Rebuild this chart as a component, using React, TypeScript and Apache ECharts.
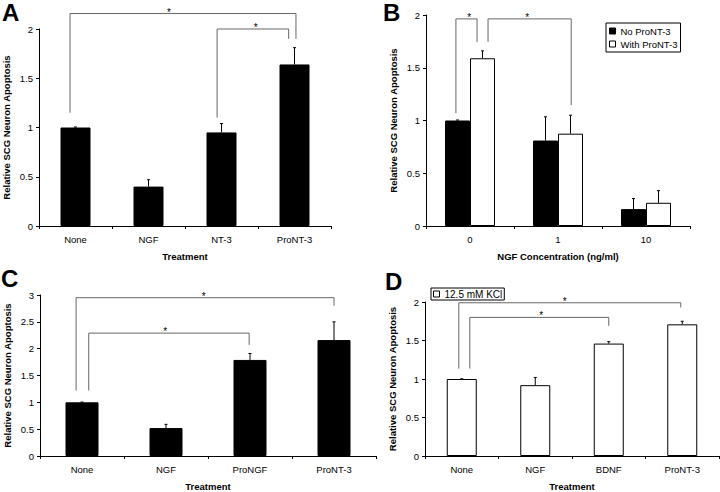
import React, { useEffect, useRef } from "react";
import * as echarts from "echarts";

const FONT = '"Liberation Sans", Arial, Helvetica, sans-serif';

// Panel A
const CATS_A = ["None", "NGF", "NT-3", "ProNT-3"];
const VALS_A = [1.0, 0.4, 0.95, 1.64];
const ERR_A = [1.005, 0.47, 1.04, 1.81];
// brackets: [xLeft, xRight, yLeftFoot, yRightFoot, yTop, xStar] (x in category units from first category centre)
const BRACKETS_A = [
  [-0.075, 3.02, 1.15, 1.9, 2.157, 1.28],
  [1.94, 2.92, 1.1, 1.9, 2.0, 2.47],
];

// Panel B
const CATS_B = ["0", "1", "10"];
const NO_PRO_B = [1.0, 0.81, 0.16];
const NO_PRO_ERR_B = [1.005, 1.035, 0.26];
const WITH_PRO_B = [1.59, 0.875, 0.22];
const WITH_PRO_ERR_B = [1.66, 1.05, 0.335];
const BRACKETS_B = [
  [-0.16, 0.08, 1.07, 1.745, 1.963, -0.01],
  [0.205, 1.15, 1.745, 1.146, 1.963, 0.65],
];

// Panel C
const CATS_C = ["None", "NGF", "ProNGF", "ProNT-3"];
const VALS_C = [1.0, 0.52, 1.79, 2.16];
const ERR_C = [1.005, 0.59, 1.91, 2.5];
const BRACKETS_C = [
  [-0.07, 3.0, 1.22, 2.8, 2.95, 1.45],
  [0.08, 1.99, 1.22, 2.07, 2.29, 0.99],
];

// Panel D
const CATS_D = ["None", "NGF", "BDNF", "ProNT-3"];
const VALS_D = [1.0, 0.92, 1.46, 1.71];
const ERR_D = [1.003, 1.02, 1.485, 1.75];
const BRACKETS_D = [
  [-0.04, 2.98, 1.135, 1.93, 1.99, 1.4],
  [0.11, 2.0, 1.135, 1.69, 1.8, 1.08],
];

const Y_TITLE = "Relative SCG Neuron Apoptosis";

function errRender(offset: number) {
  return (params: any, api: any) => {
    const base = api.coord([api.value(0), api.value(2)]);
    const top = api.coord([api.value(0), api.value(1)]);
    const x = base[0] + offset;
    return {
      type: "group",
      children: [
        { type: "line", shape: { x1: x, y1: base[1], x2: x, y2: top[1] }, style: { stroke: "#000", lineWidth: 1 } },
        { type: "line", shape: { x1: x - 1.5, y1: top[1], x2: x + 1.5, y2: top[1] }, style: { stroke: "#000", lineWidth: 1 } },
      ],
    };
  };
}

function bracketRender(params: any, api: any) {
  const c0 = api.coord([0, 0]);
  const band = api.size([1, 0])[0];
  const X = (p: number) => c0[0] + p * band;
  const Y = (v: number) => api.coord([0, v])[1];
  const xl = X(api.value(2));
  const xr = X(api.value(3));
  const yl = Y(api.value(4));
  const yr = Y(api.value(5));
  const yt = Y(api.value(6));
  const xs = X(api.value(7));
  return {
    type: "group",
    children: [
      {
        type: "polyline",
        shape: { points: [[xl, yl], [xl, yt], [xr, yt], [xr, yr]] },
        style: { stroke: "#666", fill: "none", lineWidth: 1 },
      },
      {
        type: "text",
        x: xs,
        y: yt - 1.5,
        style: { text: "*", fill: "#000", font: `10px ${FONT}`, align: "center", verticalAlign: "middle" },
      },
    ],
  };
}

function xAxis(idx: number, cats: string[], name: string) {
  return {
    type: "category",
    gridIndex: idx,
    data: cats,
    name,
    nameLocation: "middle",
    nameGap: 25,
    nameTextStyle: { fontFamily: FONT, fontWeight: "bold", fontSize: 9.5, color: "#000" },
    axisLine: { show: true, lineStyle: { color: "#000", width: 1 } },
    axisTick: { show: true, length: 3, lineStyle: { color: "#000" } },
    axisLabel: { fontFamily: FONT, fontSize: 9.5, color: "#000", margin: 8 },
    splitLine: { show: false },
  };
}

function yAxis(idx: number, max: number) {
  return {
    type: "value",
    gridIndex: idx,
    min: 0,
    max,
    interval: 0.5,
    name: Y_TITLE,
    nameLocation: "middle",
    nameGap: 28,
    nameTextStyle: { fontFamily: FONT, fontWeight: "bold", fontSize: 9.5, color: "#000" },
    axisLine: { show: true, lineStyle: { color: "#000", width: 1 } },
    axisTick: { show: true, length: 3, lineStyle: { color: "#000" } },
    axisLabel: { fontFamily: FONT, fontSize: 9.5, color: "#000", margin: 6 },
    splitLine: { show: false },
  };
}

function errSeries(idx: number, vals: number[], errs: number[], offset: number) {
  return {
    type: "custom",
    xAxisIndex: idx,
    yAxisIndex: idx,
    z: 3,
    silent: true,
    itemStyle: { color: "#000" },
    data: vals.map((v, i) => [i, errs[i], v]),
    encode: { x: 0, y: 1 },
    renderItem: errRender(offset),
  };
}

function bracketSeries(idx: number, brackets: number[][]) {
  return {
    type: "custom",
    xAxisIndex: idx,
    yAxisIndex: idx,
    z: 4,
    silent: true,
    clip: false,
    itemStyle: { color: "#000" },
    data: brackets.map((b) => [0, 0, ...b]),
    encode: { x: 0, y: 1 },
    renderItem: bracketRender,
  };
}

const BLACK = { color: "#000", borderColor: "#000", borderWidth: 1 };
const WHITE = { color: "#fff", borderColor: "#000", borderWidth: 1 };

export default function App() {
  const ref = useRef<HTMLDivElement>(null);
  useEffect(() => {
    if (!ref.current) return;
    const chart = echarts.init(ref.current, null, { renderer: "svg" });
    const legendCommon = {
      orient: "vertical",
      icon: "rect",
      itemWidth: 6,
      itemHeight: 6,
      itemGap: 3,
      borderColor: "#000",
      borderWidth: 1,
      backgroundColor: "#fff",
      z: 10,
      itemStyle: { borderColor: "#000", borderWidth: 1 },
      selectedMode: false,
    };
    chart.setOption({
      animation: false,
      backgroundColor: "#fff",
      color: ["#000"],
      textStyle: { fontFamily: FONT },
      grid: [
        { left: 39, top: 29, width: 292, height: 197 },
        { left: 426, top: 15, width: 264, height: 211 },
        { left: 40, top: 295, width: 336, height: 162 },
        { left: 425, top: 302, width: 294, height: 155 },
      ],
      xAxis: [
        xAxis(0, CATS_A, "Treatment"),
        xAxis(1, CATS_B, "NGF Concentration (ng/ml)"),
        xAxis(2, CATS_C, "Treatment"),
        xAxis(3, CATS_D, "Treatment"),
      ],
      yAxis: [yAxis(0, 2), yAxis(1, 2), yAxis(2, 3), yAxis(3, 2)],
      legend: [
        {
          ...legendCommon,
          data: ["No ProNT-3", "With ProNT-3"],
          left: 606,
          top: 23,
          padding: [3, 3],
          textStyle: { fontFamily: FONT, fontSize: 9.5, color: "#000" },
        },
        {
          ...legendCommon,
          data: ["12.5 mM KCl"],
          left: 431,
          top: 288,
          padding: [1, 2],
          textStyle: { fontFamily: FONT, fontSize: 10, color: "#000" },
        },
      ],
      graphic: [
        { type: "text", left: 2, top: 0, style: { text: "A", font: `bold 24px ${FONT}`, fill: "#000" } },
        { type: "text", left: 383, top: 0, style: { text: "B", font: `bold 24px ${FONT}`, fill: "#000" } },
        { type: "text", left: 1, top: 266, style: { text: "C", font: `bold 24px ${FONT}`, fill: "#000" } },
        { type: "text", left: 385, top: 269, style: { text: "D", font: `bold 24px ${FONT}`, fill: "#000" } },
      ],
      series: [
        { type: "bar", xAxisIndex: 0, yAxisIndex: 0, data: VALS_A, barWidth: 30, itemStyle: BLACK },
        errSeries(0, VALS_A, ERR_A, 0),
        bracketSeries(0, BRACKETS_A),

        { type: "bar", name: "No ProNT-3", xAxisIndex: 1, yAxisIndex: 1, data: NO_PRO_B, barWidth: 25, barGap: "0%", itemStyle: BLACK },
        { type: "bar", name: "With ProNT-3", xAxisIndex: 1, yAxisIndex: 1, data: WITH_PRO_B, barWidth: 25, barGap: "0%", itemStyle: WHITE },
        errSeries(1, NO_PRO_B, NO_PRO_ERR_B, -12.5),
        errSeries(1, WITH_PRO_B, WITH_PRO_ERR_B, 12.5),
        bracketSeries(1, BRACKETS_B),

        { type: "bar", xAxisIndex: 2, yAxisIndex: 2, data: VALS_C, barWidth: 33, itemStyle: BLACK },
        errSeries(2, VALS_C, ERR_C, 0),
        bracketSeries(2, BRACKETS_C),

        { type: "bar", name: "12.5 mM KCl", xAxisIndex: 3, yAxisIndex: 3, data: VALS_D, barWidth: 30, itemStyle: WHITE },
        errSeries(3, VALS_D, ERR_D, 0),
        bracketSeries(3, BRACKETS_D),
      ],
    });
    return () => chart.dispose();
  }, []);
  return (
    <div
      ref={ref}
      style={{ position: "fixed", left: 0, top: 0, width: 720, height: 492, background: "#fff" }}
    />
  );
}
